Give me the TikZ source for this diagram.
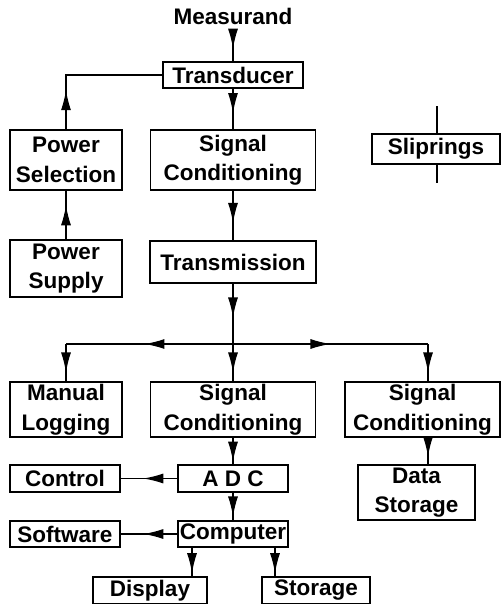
\documentclass[tikz,border=0pt]{standalone}
\usepackage{fontspec}
\setmainfont{Liberation Sans}
\usetikzlibrary{arrows.meta,decorations.markings}

\tikzset{
  box/.style={draw,line width=0.9pt,inner sep=0pt,align=center,
    font=\bfseries\fontsize{16}{21}\selectfont},
  arr/.style={postaction={decorate},
    decoration={markings,mark=at position #1 with {\arrow{Latex[length=0.5cm,width=0.25cm]}}}},
}

\begin{document}
\begin{tikzpicture}[x=0.025cm,y=-0.025cm,line width=0.9pt]
  \useasboundingbox (0,0) rectangle (502,604);
  % top part
  \node[font=\bfseries\fontsize{16}{21}\selectfont] (meas) at (233,16) {Measurand};
  \node[box,minimum width=3.5cm,minimum height=0.65cm] (trans) at (233,75) {Transducer};
  \node[box,minimum width=2.8cm,minimum height=1.5cm] (psel) at (66,160) {Power\\Selection};
  \node[box,minimum width=4.125cm,minimum height=1.5cm] (sc1) at (233,160) {Signal\\Conditioning};
  \node[box,minimum width=3.2cm,minimum height=0.75cm] (slip) at (436,149) {Sliprings};
  \coordinate (slipT) at (437,106);
  \coordinate (slipB) at (437,183);
  \node[box,minimum width=2.8cm,minimum height=1.425cm] (psup) at (66,268.5) {Power\\Supply};
  \node[box,minimum width=4.15cm,minimum height=1.05cm] (tm) at (233,262) {Transmission};
  % lower part
  \coordinate (split) at (233,344);
  \coordinate (splitL) at (66,344);
  \coordinate (splitR) at (428,344);
  \node[box,minimum width=2.8cm,minimum height=1.375cm] (ml) at (66,409.5) {Manual\\Logging};
  \node[box,minimum width=4.125cm,minimum height=1.375cm] (sc2) at (233,409.5) {Signal\\Conditioning};
  \node[box,minimum width=3.875cm,minimum height=1.375cm] (sc3) at (422.5,409.5) {Signal\\Conditioning};
  \node[box,minimum width=2.75cm,minimum height=0.675cm] (adc) at (233,478.5) {A D C};
  \node[box,minimum width=2.75cm,minimum height=0.675cm] (ctrl) at (65,478.5) {Control};
  \node[box,minimum width=2.925cm,minimum height=1.375cm] (ds) at (416.5,492.5) {Data\\Storage};
  \node[box,minimum width=2.75cm,minimum height=0.65cm] (comp) at (233,534) {Computer};
  \node[box,minimum width=2.75cm,minimum height=0.65cm] (soft) at (65,534) {Software};
  \node[box,minimum width=2.85cm,minimum height=0.675cm] (disp) at (150,590.5) {Display};
  \node[box,minimum width=2.7cm,minimum height=0.675cm] (stor) at (316,590.5) {Storage};
  \coordinate (dispA) at (192,577);
  \coordinate (storA) at (275,577);

  % connectors
  \draw[arr=0.6] (meas.south) -- (trans.north);
  \draw[arr=0.6] (trans.south) -- (sc1.north);
  \draw[arr=0.26] (psel.north) |- (trans.west);
  \draw[arr=0.7] (psup.north) -- (psel.south);
  \draw[arr=0.65] (sc1.south) -- (tm.north);
  \draw (slipT) -- (slipT |- slip.north);
  \draw (slipB |- slip.south) -- (slipB);
  \draw[arr=0.56] (tm.south) -- (split);
  \draw[arr=0.53] (split) -- (splitL);
  \draw[arr=0.76] (splitL) -- (ml.north);
  \draw[arr=0.76] (split) -- (sc2.north);
  \draw[arr=0.5] (split) -- (splitR);
  \draw[arr=0.76] (splitR) -- (splitR |- sc3.north);
  \draw[arr=0.71] (splitR |- sc3.south) -- (splitR |- ds.north);
  \draw[arr=0.9] (sc2.south) -- (adc.north);
  \draw[arr=0.6] (adc.west) -- (ctrl.east);
  \draw[arr=0.86] (adc.south) -- (comp.north);
  \draw[arr=0.6] (comp.west) -- (soft.east);
  \draw[arr=0.87] (dispA |- comp.south) -- (dispA);
  \draw[arr=0.87] (storA |- comp.south) -- (storA);
\end{tikzpicture}
\end{document}
